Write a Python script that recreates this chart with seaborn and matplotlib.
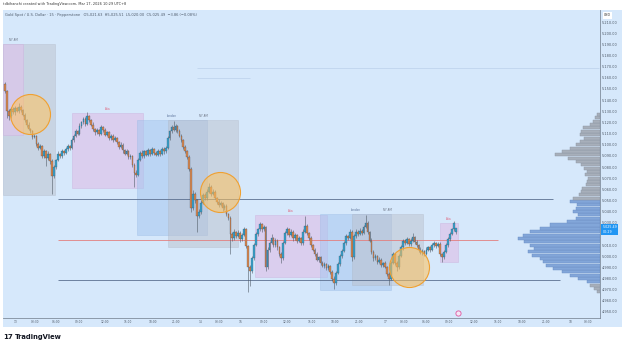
import numpy as np
import pandas as pd
import matplotlib
matplotlib.use("Agg")
import matplotlib.pyplot as plt
from matplotlib.patches import Rectangle
import matplotlib.transforms as mtransforms
import seaborn as sns

# ---------------- data ----------------
closes = [
    5148, 5130, 5126, 5132, 5129, 5133, 5130, 5134, 5131, 5127,
    5122, 5118, 5114, 5112, 5107, 5108, 5101, 5097, 5099, 5090,
    5094, 5088, 5092, 5085, 5072, 5080, 5086, 5092, 5090, 5094,
    5093, 5096, 5099, 5097, 5104, 5108, 5112, 5110, 5117, 5120,
    5123, 5119, 5126, 5122, 5118, 5114, 5111, 5113, 5110, 5116,
    5113, 5109, 5111, 5106, 5108, 5104, 5106, 5102, 5098, 5100,
    5095, 5092, 5094, 5089, 5090, 5082, 5075, 5073, 5086, 5093,
    5090, 5094, 5091, 5095, 5092, 5096, 5093, 5091, 5094, 5092,
    5096, 5094, 5097, 5106, 5112, 5116, 5113, 5117, 5112, 5108,
    5104, 5098, 5094, 5089, 5078, 5043, 5056, 5050, 5036, 5040,
    5048, 5055, 5052, 5058, 5062, 5056, 5058, 5052, 5049, 5046,
    5048, 5043, 5045, 5038, 5034, 5020, 5016, 5022, 5018, 5021,
    5015, 5019, 5024, 5009, 4990, 4987, 4998, 5010, 5020, 5024,
    5029, 5024, 5026, 4990, 5006, 5012, 5016, 5010, 5014, 5008,
    5002, 4998, 5012, 5021, 5024, 5019, 5022, 5016, 5019, 5014,
    5016, 5012, 5022, 5027, 5021, 5016, 5010, 5006, 5002, 4997,
    4999, 4994, 4991, 4993, 4989, 4991, 4986, 4980, 4976, 4985,
    4993, 5000, 5005, 5012, 5018, 5016, 5022, 4999, 5018, 5022,
    5020, 5023, 5021, 5026, 5030, 5022, 5014, 5004, 4998, 5000,
    4995, 4997, 4992, 4994, 4990, 4984, 4980, 4994, 5002, 4994,
    4990, 5000, 5008, 5014, 5012, 5015, 5011, 5014, 5017, 5013,
    5010, 5006, 5003, 5005, 5002, 5006, 5008, 5006, 5010, 5012,
    5009, 5011, 5002, 4999, 5004, 5010, 5015, 5020, 5024, 5029.35,
    5025.49,
]
upper_wicks = [
    2, 1, 2, 2, 1.5, 2, 1, 3, 1.5, 1,
    1.5, 1, 2, 1, 1.5, 2, 1, 1.5, 2, 1,
    2, 1.5, 2.5, 1, 2, 2, 1.5, 2, 1, 2,
    1.5, 2, 1.5, 1, 2, 1.5, 2, 1, 2.5, 1.5,
    2, 1.5, 3, 1, 1.5, 2, 1, 2, 1.5, 2,
    1, 2, 1.5, 1, 2, 1.5, 2, 1, 1.5, 2,
    1.5, 1, 2, 1.5, 2, 1, 1.5, 2, 2.5, 1.5,
    2, 1.5, 1, 2, 1.5, 2, 1, 1.5, 2, 1,
    2, 1.5, 2, 2, 1.5, 2, 5, 1.5, 1, 2,
    1.5, 1, 2, 1.5, 2, 2, 3, 1.5, 1, 2,
    2, 1.5, 2, 2, 4, 1.5, 2, 1, 1.5, 2,
    1.5, 1, 2, 1.5, 1, 2, 1.5, 2, 1, 2.5,
    1.5, 2, 2, 1, 1.5, 2, 2, 1.5, 2, 1.5,
    2, 1, 2, 1.5, 2, 1.5, 4, 1, 2, 1.5,
    1, 2, 2, 1.5, 2, 1, 2, 1.5, 2, 1,
    2, 1, 2, 9, 1.5, 1, 2, 1, 1.5, 2,
    1.5, 1, 2, 1.5, 1, 2, 1, 1.5, 2, 2,
    1.5, 2, 1.5, 2, 2, 1, 2, 1.5, 2, 2.5,
    1.5, 2, 1, 2, 7, 1.5, 1, 2, 1.5, 2,
    1, 2, 1.5, 1, 2, 1, 1.5, 2, 2, 1,
    1.5, 2, 2, 1.5, 1, 2, 1.5, 2, 4, 1,
    1.5, 1, 2, 1.5, 1, 2, 1.5, 1, 2, 1.5,
    1, 2, 1.5, 1, 2, 1.5, 2, 2, 1.5, 2,
    0.02,
]
lower_wicks = [
    2, 6, 4, 2, 1.5, 2, 1, 1.5, 2, 1,
    1.5, 2, 1, 1.5, 2, 1, 2, 1.5, 1, 2,
    1.5, 7, 1.5, 2, 16, 2, 1.5, 1, 2, 1.5,
    2, 1, 1.5, 2, 1, 2, 1.5, 1, 1.5, 2,
    1, 2, 1.5, 2, 1, 1.5, 2, 1, 2.5, 1,
    2, 1.5, 1, 2, 1.5, 2, 1, 1.5, 2, 1,
    2, 1.5, 1, 2, 1.5, 2, 13, 2, 1.5, 1,
    1.5, 2, 1, 1.5, 2, 1, 2, 1.5, 1, 2,
    1, 2, 1.5, 1, 2, 1.5, 1, 2, 1.5, 1,
    2, 1.5, 1, 2, 2, 3, 1.5, 2, 14, 1.5,
    2, 1, 1.5, 2, 1, 2, 1.5, 1, 2, 1.5,
    1, 2, 1.5, 2, 1.5, 18, 2, 1.5, 2, 1,
    2, 1.5, 1, 2, 22, 14, 2, 1.5, 1, 2,
    1.5, 2, 1, 3, 1.5, 2, 1, 2, 1.5, 2,
    2, 4, 1.5, 1, 2, 1.5, 1, 2, 1.5, 2,
    1, 2, 1.5, 1, 2, 1.5, 2, 1, 2, 1.5,
    2, 1.5, 1, 2, 1.5, 1, 2, 2, 5, 1.5,
    1, 2, 1.5, 1, 2, 1.5, 1, 3, 1.5, 2,
    1.5, 1, 2, 1.5, 1, 2, 1.5, 2, 2, 1.5,
    2, 1, 2, 1.5, 1, 2, 6, 1.5, 1, 2,
    3, 1.5, 1, 2, 1.5, 1, 2, 1.5, 1, 2,
    1.5, 2, 1, 1.5, 2, 1, 1.5, 2, 1, 1.5,
    2, 1, 2, 4, 1.5, 1, 2, 1.5, 1, 1.5,
    1.63,
]
FIRST_OPEN = 5154.0
LAST_OPEN = 5021.63

price_ticks = [4950, 4960, 4970, 4980, 4990, 5000, 5010, 5020, 5030, 5040,
               5050, 5060, 5070, 5080, 5090, 5100, 5110, 5120, 5130, 5140,
               5150, 5160, 5170, 5180, 5190, 5200, 5210]
time_tick_pos = [5.6, 15.3, 26, 37.8, 51, 62.8, 75.5, 87.2, 100, 109.2,
                 120.4, 132, 143.9, 156.6, 168.4, 180.6, 194.4, 203.6, 214.8,
                 226.5, 239.3, 251.5, 263.8, 276, 288.3, 297.4]
time_tick_labels = ["13", "03:30", "06:00", "09:00", "12:00", "15:00", "18:00",
                    "21:00", "14", "03:30", "16", "09:00", "12:00", "15:00",
                    "18:00", "21:00", "17", "03:30", "06:00", "09:00", "12:00",
                    "15:00", "18:00", "21:00", "18", "03:30"]

# volume profile (visible range)
profile_prices = [4968, 4971, 4974, 4977, 4980, 4983, 4986, 4989, 4992, 4995,
                  4998, 5001, 5004, 5007, 5010, 5013, 5016, 5019, 5022, 5025,
                  5028, 5031, 5034, 5037, 5040, 5043, 5046, 5049, 5052, 5055,
                  5058, 5061, 5064, 5067, 5070, 5073, 5076, 5079, 5082, 5085,
                  5088, 5091, 5094, 5097, 5100, 5103, 5106, 5109, 5112, 5115,
                  5118, 5121, 5124, 5127]
profile_volume = [3, 6, 10, 13, 22, 30, 38, 47, 54, 57,
                  60, 68, 72, 66, 70, 76, 82, 77, 70, 60,
                  50, 33, 24, 22, 27, 24, 23, 30, 27, 21,
                  19, 18, 14, 13, 12, 15, 13, 16, 19, 24,
                  32, 45, 38, 30, 24, 20, 16, 20, 19, 17,
                  10, 7, 5, 3]
value_area = [4977, 5050]

# session boxes
zone_start = [-1.0, -1.0, 34.2, 67.3, 83.2, 127.6, 160.7, 177.0, 222.0]
zone_end = [25.5, 9.2, 70.4, 103.0, 118.9, 164.3, 197.0, 213.3, 231.1]
zone_low = [5054.9, 5108.7, 5061.2, 5019.0, 5008.3, 4981.4, 4969.7, 4974.2, 4994.8]
zone_high = [5190.3, 5190.3, 5128.4, 5122.1, 5122.1, 5037.0, 5037.9, 5037.9, 5029.8]
zone_kind = ["ny", "asia", "asia", "london", "ny", "asia", "london", "ny", "asia"]
zone_label = ["", "NY AM", "Asia", "London", "NY AM", "Asia", "London", "NY AM", "Asia"]

# horizontal levels
level_price = [5051.3, 5014.5, 4978.7]
level_start = [27, 27, 27]
level_end = [279.6, 251.5, 283.0]
level_kind = ["grey", "red", "grey"]
faint_price = [5168.8, 5159.8]
faint_start = [98.0, 98.0]
faint_end = [303.0, 125.0]

# highlighted circles
circle_bar = [12.8, 109.7, 206.1]
circle_price = [5127.5, 5057.6, 4990.3]

event_bar = [231.1]
event_price = [4949.3]

last_price = 5025.49
countdown = "00:29"
header = "tdbihanchi created with TradingView.com, Mar 17, 2026 10:29 UTC+8"
legend = ("Gold Spot / U.S. Dollar \u00b7 15 \u00b7 Pepperstone   O5,021.63  H5,025.51  "
          "L5,020.00  C5,025.49  \u22123.86 (\u22120.08%)")

# ---------------- build frame ----------------
n = len(closes)
opens = [FIRST_OPEN] + closes[:-1]
opens[-1] = LAST_OPEN
df = pd.DataFrame({"bar": np.arange(n), "open": opens, "close": closes,
                   "up_w": upper_wicks, "dn_w": lower_wicks})
df["top"] = df[["open", "close"]].max(axis=1)
df["bot"] = df[["open", "close"]].min(axis=1)
df["high"] = df["top"] + df["up_w"]
df["low"] = df["bot"] - df["dn_w"]
df["rising"] = df["close"] >= df["open"]

sns.set_theme(style="white")
plt.rcParams["font.family"] = ["DejaVu Sans"]

W, H = 625, 348
BG = "#d6e8fb"
fig = plt.figure(figsize=(6.25, 3.48), dpi=100, facecolor="white")
fig.patches.append(Rectangle((3 / W, 1 - 327 / H), 619 / W, 317 / H,
                             transform=fig.transFigure, facecolor=BG,
                             edgecolor="none", zorder=-10))
ax = fig.add_axes([3 / W, 1 - 318 / H, 597 / W, 308 / H])
ax.set_facecolor(BG)
ax.set_zorder(1)

XMIN, XMAX = -1.02, 303.6
YMIN, YMAX = 4944.6, 5220.8

# session boxes
zone_face = {"asia": ("#dcc6ea", 0.75), "london": ("#a6c6ef", 0.55), "ny": ("#bcc1cc", 0.5)}
zone_edge = {"asia": "#cbb0dc", "london": "#93b5e2", "ny": "#a9afbb"}
label_col = {"Asia": "#e0607a", "London": "#5a7098", "NY AM": "#6d7585"}
for x0, x1, lo, hi, kind, lab in zip(zone_start, zone_end, zone_low, zone_high,
                                     zone_kind, zone_label):
    fc, a = zone_face[kind]
    ax.add_patch(Rectangle((x0, lo), x1 - x0, hi - lo, facecolor=fc, alpha=a,
                           edgecolor=zone_edge[kind], lw=0.4, zorder=1))
    if lab:
        ax.text((x0 + x1) / 2, hi + 2.0, lab, fontsize=2.0, color=label_col[lab],
                ha="center", va="bottom", zorder=2)

# levels
lvl_col = {"grey": "#5c7090", "red": "#e37f7f"}
for p, s, e, k in zip(level_price, level_start, level_end, level_kind):
    ax.hlines(p, s, e, color=lvl_col[k], lw=0.6, zorder=2)
for p, s, e in zip(faint_price, faint_start, faint_end):
    ax.hlines(p, s, e, color="#bcd0ea", lw=0.5, zorder=1)

# candles
up_col, dn_col, edge_col = "#38a2cc", "#d9874f", "#35424d"
ax.vlines(df["bar"], df["low"], df["high"], color="#505b66", lw=0.4, zorder=3)
heights = (df["top"] - df["bot"]).clip(lower=0.5)
colors = np.where(df["rising"], up_col, dn_col)
ax.bar(df["bar"], heights, bottom=df["bot"], width=0.86, color=colors,
       edgecolor=edge_col, linewidth=0.18, zorder=4)

# circles
sns.scatterplot(x=circle_bar, y=circle_price, s=830, marker="o",
                color=(1.0, 0.76, 0.36, 0.55), edgecolor="#f0a030", linewidth=0.8,
                ax=ax, zorder=5, legend=False)

# event icon
ax.scatter(event_bar, event_price, s=14, facecolor="#f3e6f5", edgecolor="#e0559e",
           linewidth=0.6, zorder=6, clip_on=False)

ax.set_xlim(XMIN, XMAX)
ax.set_ylim(YMIN, YMAX)

# axes styling
for side in ["top", "left"]:
    ax.spines[side].set_visible(False)
for side in ["right", "bottom"]:
    ax.spines[side].set_color("#7f8c9c")
    ax.spines[side].set_linewidth(0.6)
ax.yaxis.tick_right()
ax.set_yticks(price_ticks)
ax.set_yticklabels([f"{v:,.2f}" for v in price_ticks])
ax.set_xticks(time_tick_pos)
ax.set_xticklabels(time_tick_labels)
ax.tick_params(axis="y", length=0, pad=1.6, labelsize=2.5, labelcolor="#4d5866")
ax.tick_params(axis="x", length=0, pad=1.6, labelsize=2.1, labelcolor="#4d5866")
ax.grid(False)

# volume profile on the right
pax = ax.twiny()
pax.set_xlim(597, 0)
pcols = ["#82a6d9" if value_area[0] <= p <= value_area[1] else "#a7afba"
         for p in profile_prices]
pedge = ["#6a8dc2" if value_area[0] <= p <= value_area[1] else "#8c96a3"
         for p in profile_prices]
pax.barh(profile_prices, profile_volume, left=0, height=2.7, color=pcols,
         edgecolor=pedge, linewidth=0.3, zorder=2)
pax.set_ylim(YMIN, YMAX)
pax.set_xticks([])
for side in pax.spines:
    pax.spines[side].set_visible(False)
pax.patch.set_visible(False)

# last price label
trans = mtransforms.blended_transform_factory(ax.transAxes, ax.transData)
pax.text(1.004, last_price - 1.5, f"{last_price:,.2f}\n{countdown}", transform=trans,
         fontsize=2.3, color="white", ha="left", va="center", linespacing=1.1,
         bbox=dict(boxstyle="square,pad=0.35", facecolor="#2196f3", edgecolor="none"),
         zorder=10, clip_on=False)

# texts
fig.text(3 / W, 1 - 4 / H, header, fontsize=2.5, color="#333333", va="center", ha="left")
fig.text(5 / W, 1 - 15 / H, legend, fontsize=2.6, color="#4f5b6b", va="center", ha="left",
         zorder=5)
fig.text(604 / W, 1 - 15.5 / H, "USD", fontsize=2.3, color="#333333", va="center",
         ha="left", zorder=5, bbox=dict(boxstyle="square,pad=0.4", facecolor="white",
                                        edgecolor="none"))
fig.text(3 / W, 1 - 337 / H, "17", fontsize=5.0, fontweight="heavy", color="#131722",
         va="center", ha="left")
fig.text(15 / W, 1 - 337 / H, "TradingView", fontsize=4.9, fontweight="semibold",
         color="#131722", va="center", ha="left")

fig.savefig("out.png", dpi=100, facecolor="white")
